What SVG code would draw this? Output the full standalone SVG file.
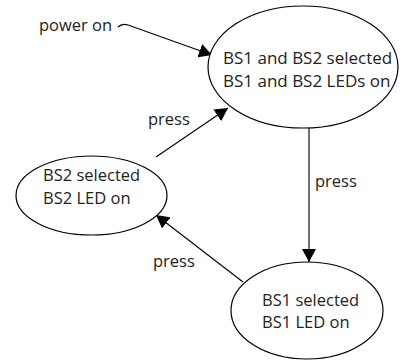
<svg xmlns="http://www.w3.org/2000/svg" width="405" height="361" viewBox="0 0 405 361">
<style>
text{font-family:"Open Sans","Noto Sans","DejaVu Sans",sans-serif;font-size:16.5px;fill:#222}
.st{fill:#fff;stroke:#000;stroke-width:1.2}
.c{fill:none;stroke:#000;stroke-width:1.1}
</style>
<defs>
<marker id="ah" markerUnits="userSpaceOnUse" markerWidth="14" markerHeight="14" refX="13" refY="7" orient="auto" viewBox="0 0 14 14">
<path d="M0,0 L13,7 L0,14 z" fill="#000"/>
</marker>
</defs>
<rect width="405" height="361" fill="#fff"/>
<g id="connectors">
<path class="c" d="M118,27 Q122,23 128,25 L212,55" marker-end="url(#ah)"/>
<path class="c" d="M156,157 L228,108" marker-end="url(#ah)"/>
<path class="c" d="M309,128 L309,262" marker-end="url(#ah)"/>
<path class="c" d="M243,282 L156,215" marker-end="url(#ah)"/>
<text x="39" y="31">power on</text>
<text x="148" y="125">press</text>
<text x="315" y="187">press</text>
<text x="153" y="267">press</text>
</g>
<g id="both">
<ellipse class="st" cx="303" cy="67" rx="95" ry="61"/>
<text x="223" y="64" font-size="17" style="font-size:17px">BS1 and BS2 selected</text>
<text x="223" y="87" style="font-size:17px">BS1 and BS2 LEDs on</text>
</g>
<g id="bs2">
<ellipse class="st" cx="91.5" cy="195.5" rx="75.5" ry="39.5"/>
<text x="43" y="181">BS2 selected</text>
<text x="43" y="204">BS2 LED on</text>
</g>
<g id="bs1">
<ellipse class="st" cx="307" cy="310.5" rx="76" ry="48.5"/>
<text x="262" y="306">BS1 selected</text>
<text x="262" y="328">BS1 LED on</text>
</g>
</svg>
